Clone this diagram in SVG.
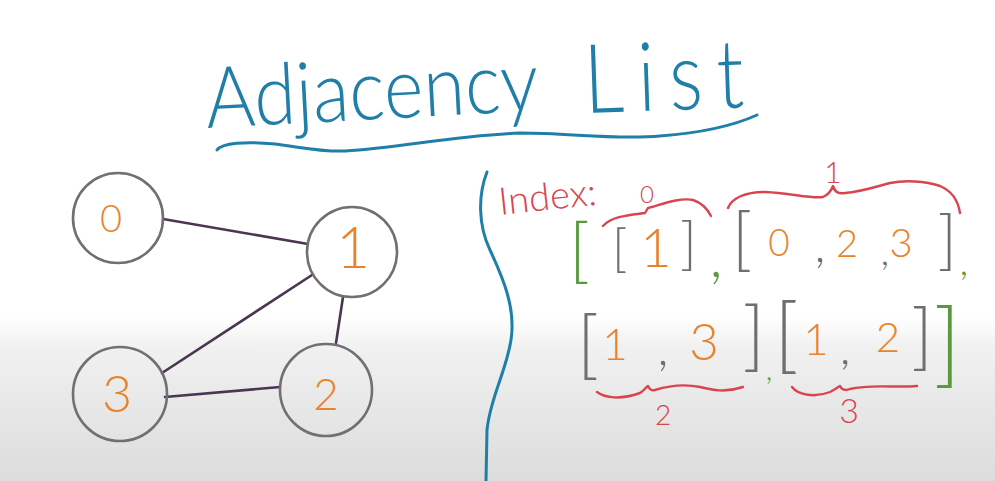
<svg xmlns="http://www.w3.org/2000/svg" width="995" height="481" viewBox="0 0 995 481">
<defs>
<linearGradient id="bg" x1="0" y1="0" x2="0" y2="1">
<stop offset="0" stop-color="#ffffff"/>
<stop offset="0.66" stop-color="#ffffff"/>
<stop offset="0.72" stop-color="#f1f1f1"/>
<stop offset="1" stop-color="#dcdcdc"/>
</linearGradient>
<style>
.hw{font-family:Lato,"Open Sans","Noto Sans",sans-serif;font-weight:300}
.title{fill:#1f7fa8}
.blue{fill:none;stroke:#1f7fa8;stroke-width:3;stroke-linecap:round}
.node{fill:none;stroke:#707070;stroke-width:2.6}
.lbl{fill:#e8832b;text-anchor:middle}
.edge{stroke:#4b3553;stroke-width:2.6;stroke-linecap:round}
.red{fill:#d8454f}
.brace{fill:none;stroke:#d8454f;stroke-width:2.4;stroke-linecap:round;stroke-linejoin:round}
.gray{fill:#6f6f6f}
.green{fill:#5a9a3c}
.or{fill:#e8832b;text-anchor:middle}
.mid{text-anchor:middle}
.end{text-anchor:end}
</style>
</defs>
<rect x="0" y="0" width="995" height="481" fill="url(#bg)"/>

<g id="title">
<text class="hw title" x="207" y="128" font-size="85" textLength="333" lengthAdjust="spacingAndGlyphs" transform="rotate(-3 207 128)">Adjacency</text>
<text class="hw title" x="0" y="0" font-size="96" textLength="195" lengthAdjust="spacing" transform="translate(585 113) rotate(-2) scale(0.82 1)">List</text>
<path class="blue" d="M217 150 C222 143 245 141 275 144 C300 147 320 152 345 151 C400 148 450 136 520 133 C570 133 615 140 660 136 C700 133 735 125 757 115"/>
</g>

<g id="divider">
<path class="blue" d="M487 172 C478 195 478 225 490 250 C503 278 516 308 511 340 C506 372 490 398 487 430 L486 481"/>
</g>

<g id="connectors">
<line class="edge" x1="163" y1="219" x2="308" y2="244"/>
<line class="edge" x1="312" y1="275" x2="162" y2="373"/>
<line class="edge" x1="343" y1="297" x2="336" y2="343"/>
<line class="edge" x1="165" y1="397" x2="280" y2="387"/>
</g>

<g id="node0">
<circle class="node" cx="118" cy="218" r="45"/>
<text class="hw lbl" x="111" y="232" font-size="38">0</text>
</g>
<g id="node1">
<circle class="node" cx="352" cy="252" r="45"/>
<text class="hw lbl" x="353" y="268" font-size="58">1</text>
</g>
<g id="node2">
<circle class="node" cx="326" cy="390" r="46"/>
<text class="hw lbl" x="326" y="410" font-size="44">2</text>
</g>
<g id="node3">
<circle class="node" cx="120" cy="394" r="47"/>
<text class="hw lbl" x="117" y="412" font-size="52">3</text>
</g>

<g id="list">
<text class="hw red" x="500" y="215" font-size="38" transform="rotate(-6 500 215)">Index:</text>
<text class="hw red mid" x="647" y="203" font-size="24">0</text>
<text class="hw red mid" x="833" y="183" font-size="30">1</text>
<text class="hw red mid" x="663" y="425" font-size="28">2</text>
<text class="hw red mid" x="849" y="423" font-size="34">3</text>

<path class="brace" d="M603 226 C612 216 630 215 645 213 L648 208 C660 205 680 197 693 200 C702 203 708 210 711 216"/>
<path class="brace" d="M728 208 C732 198 745 192 765 192 C790 193 812 199 823 197 C828 195 831 191 833 186 C835 192 838 194 845 193 C860 192 875 187 890 183 C905 180 925 181 940 186 C952 191 958 200 960 213"/>
<path class="brace" d="M597 392 C605 398 620 400 640 393 C645 390 647 386 648 386 C650 390 652 391 655 390 C668 386 685 384 700 387 C712 390 725 393 743 387"/>
<path class="brace" d="M792 387 C798 395 815 398 830 392 C836 389 838 387 840 386 C842 390 845 391 850 389 C870 384 895 388 917 386"/>

<text class="hw green" x="569" y="275" font-size="70">[</text>
<text class="hw gray" x="612" y="266" font-size="52">[</text>
<text class="hw or" x="656" y="267" font-size="54">1</text>
<text class="hw gray end" x="697" y="263" font-size="57">]</text>
<text class="hw green mid" x="716" y="277" font-size="60">,</text>
<text class="hw gray" x="732" y="263" font-size="68">[</text>
<text class="hw or" x="779" y="256" font-size="37">0</text>
<text class="hw gray mid" x="820" y="262" font-size="50">,</text>
<text class="hw or" x="847" y="257" font-size="38">2</text>
<text class="hw gray mid" x="885" y="265" font-size="40">,</text>
<text class="hw or" x="901" y="257" font-size="40">3</text>
<text class="hw gray end" x="957" y="262" font-size="66">]</text>
<text class="hw green mid" x="964" y="275" font-size="40">,</text>

<text class="hw gray" x="577" y="370" font-size="74">[</text>
<text class="hw or" x="615" y="360" font-size="44">1</text>
<text class="hw gray mid" x="663" y="365" font-size="50">,</text>
<text class="hw or" x="704" y="360" font-size="51">3</text>
<text class="hw gray end" x="765" y="362" font-size="76">]</text>
<text class="hw green mid" x="769" y="380" font-size="32">,</text>
<text class="hw gray" x="774" y="363" font-size="83">[</text>
<text class="hw or" x="816" y="355" font-size="44">1</text>
<text class="hw gray mid" x="845" y="364" font-size="48">,</text>
<text class="hw or" x="888" y="352" font-size="42">2</text>
<text class="hw gray end" x="933" y="361" font-size="73">]</text>
<text class="hw green end" x="961" y="376" font-size="93">]</text>
</g>
</svg>
